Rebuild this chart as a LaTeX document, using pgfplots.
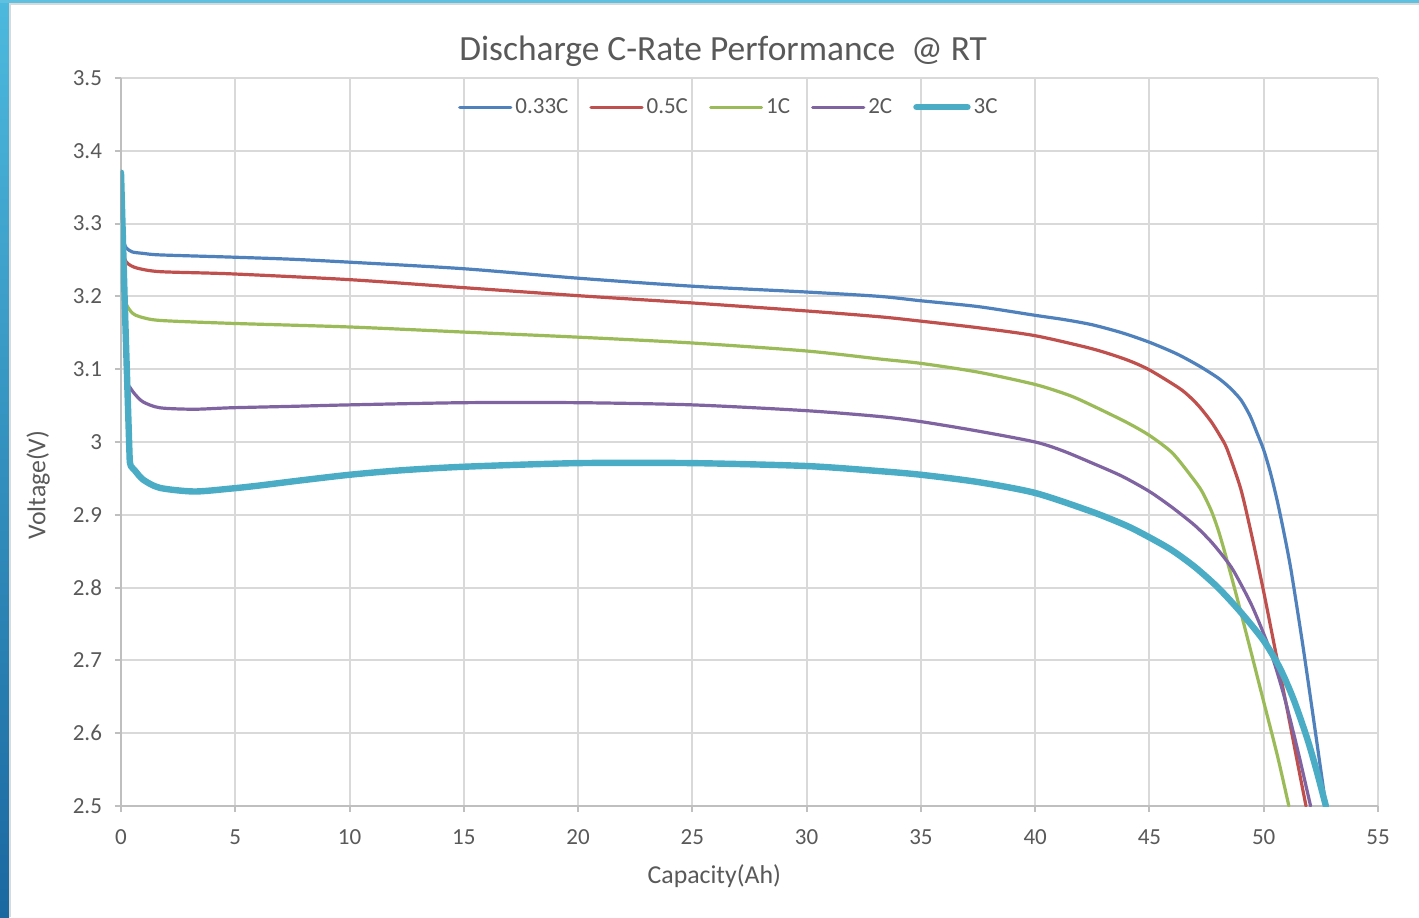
\documentclass[border=0pt]{standalone}
\usepackage{fontspec}
\setmainfont{Carlito}
\usepackage{pgfplots}
\pgfplotsset{compat=1.18}
\usepackage{pgfplotstable}

\definecolor{txt}{HTML}{595959}
\definecolor{gridc}{HTML}{D9D9D9}
\definecolor{axc}{HTML}{BFBFBF}
\definecolor{cA}{HTML}{4F81BD}
\definecolor{cB}{HTML}{C0504D}
\definecolor{cC}{HTML}{9BBB59}
\definecolor{cD}{HTML}{8064A2}
\definecolor{cE}{HTML}{4BACC6}
\definecolor{frameTop}{HTML}{4DB9DD}
\definecolor{frameBot}{HTML}{1A68A0}

% capacity (Ah) vs voltage (V)
\pgfplotstableread{
x y
0 3.370
0.09 3.290
0.15 3.272
0.25 3.266
0.5 3.261
1 3.259
1.7 3.257
4.8 3.254
7.5 3.251
10 3.247
15 3.238
20 3.225
25 3.214
30 3.206
33.2 3.200
35 3.194
37.5 3.186
40 3.174
41.3 3.168
42.5 3.161
43.8 3.150
45 3.137
46.2 3.121
47.2 3.104
48 3.088
48.5 3.075
49 3.058
49.4 3.036
49.7 3.013
50 2.989
50.3 2.957
50.6 2.918
50.9 2.873
51.2 2.823
51.7 2.723
52.2 2.615
52.72 2.500
}\rateA

\pgfplotstableread{
x y
0 3.370
0.11 3.270
0.16 3.252
0.3 3.245
0.69 3.239
1.7 3.234
4.8 3.231
10 3.223
15 3.212
20 3.201
25 3.191
30 3.180
33.2 3.172
35 3.166
37.5 3.157
40 3.146
42.5 3.128
44 3.113
45 3.099
46.3 3.074
46.8 3.061
47.2 3.048
47.7 3.028
48.1 3.008
48.4 2.990
49.0 2.935
49.5 2.868
50.0 2.794
50.5 2.715
51.0 2.637
51.5 2.556
51.85 2.500
}\rateB

\pgfplotstableread{
x y
0 3.370
0.18 3.200
0.25 3.188
0.5 3.177
0.83 3.172
1.7 3.167
4.8 3.163
10 3.158
15 3.151
20 3.144
25 3.136
30 3.125
33.2 3.114
35 3.108
37.5 3.096
40 3.079
41.5 3.064
42.5 3.050
44 3.027
45 3.009
46 2.985
46.9 2.950
47.3 2.932
47.7 2.906
48.0 2.880
48.3 2.848
48.8 2.790
49.4 2.717
50.0 2.643
50.6 2.569
51.1 2.500
}\rateC

\pgfplotstableread{
x y
0 3.370
0.30 3.080
0.37 3.076
0.6 3.066
0.97 3.055
1.7 3.047
3.2 3.045
4.8 3.047
7.5 3.049
10 3.051
15 3.054
20 3.054
25 3.051
30 3.043
33.2 3.035
35 3.028
37.5 3.015
40 3.000
41.2 2.988
42.5 2.971
43.8 2.953
45 2.932
46 2.910
47 2.885
47.7 2.863
48.3 2.840
48.7 2.822
49.5 2.774
50.3 2.712
50.9 2.650
51.5 2.575
52.05 2.500
}\rateD

\pgfplotstableread{
x y
0 3.370
0.18 3.175
0.36 2.995
0.39 2.972
0.43 2.967
0.6 2.961
0.98 2.948
1.7 2.937
3.2 2.932
4.8 2.936
6 2.940
7.8 2.947
10 2.955
12.2 2.961
15 2.966
20 2.971
25 2.971
30 2.967
33.2 2.960
35 2.955
37.5 2.945
40 2.930
42.5 2.904
44 2.885
45 2.869
46 2.851
47 2.828
48 2.800
49 2.766
50 2.727
50.7 2.690
51.3 2.647
51.9 2.593
52.3 2.550
52.72 2.500
}\rateE

\begin{document}
\begin{tikzpicture}
  \useasboundingbox (0,0) rectangle (709.5pt,458.5pt);
  \fill[white] (0,0) rectangle (709.5pt,458.5pt);
  % screenshot frame
  \fill[top color=frameTop, bottom color=frameBot] (0,0) rectangle (4.5pt,458.5pt);
  \fill[frameTop!90!white] (0,457pt) rectangle (709.5pt,458.5pt);
  \draw[gridc, line width=0.8pt] (5pt,0) -- (5pt,456.6pt) -- (709.5pt,456.6pt);

  \begin{axis}[
      at={(60.5pt,55.5pt)}, anchor=south west,
      scale only axis,
      width=628.5pt, height=364pt,
      xmin=0, xmax=55, ymin=2.5, ymax=3.5,
      xtick={0,5,...,55},
      ytick={2.5,2.6,2.7,2.8,2.9,3,3.1,3.2,3.3,3.4,3.5},
      axis x line*=bottom, axis y line*=left,
      axis line style={axc, line width=1pt},
      tick align=outside, major tick length=3pt,
      tick style={axc, line width=1pt},
      grid=major,
      major grid style={gridc, line width=1pt},
      /pgf/number format/assume math mode=true,
      ticklabel style={font=\fontsize{11.5}{13}\selectfont, text=txt},
      yticklabel style={xshift=-3pt},
      xticklabel style={yshift=-5.5pt},
      xlabel={Capacity(Ah)},
      xlabel style={at={(axis description cs:0.472,-0.097)}, anchor=center,
        font=\fontsize{12.9}{15}\selectfont, text=txt},
      ylabel={Voltage(V)},
      ylabel style={at={(axis description cs:-0.066,0.441)}, anchor=center,
        font=\fontsize{12.9}{15}\selectfont, text=txt},
      after end axis/.code={
        \node[anchor=base, inner sep=0pt, text=txt, font=\fontsize{17.7}{21}\selectfont]
          at (axis description cs:0.479,1.0247) {Discharge C-Rate Performance\ \ @ RT};
      },
      legend columns=-1,
      legend style={at={(axis description cs:0.484,0.96)}, anchor=center,
        draw=none, fill=none, font=\fontsize{11.5}{13}\selectfont, text=txt,
        nodes={inner xsep=1.5pt, inner ysep=1pt},
        /tikz/every even column/.append style={column sep=9pt}},
      legend image code/.code={\draw[#1] (0pt,0pt) -- (25.5pt,0pt);},
      every axis plot/.append style={smooth, tension=0.45, line join=round, line cap=round},
    ]
    \addplot[cA, line width=1.6pt] table {\rateA};
    \addplot[cB, line width=1.6pt] table {\rateB};
    \addplot[cC, line width=1.6pt] table {\rateC};
    \addplot[cD, line width=1.6pt] table {\rateD};
    \addplot[cE, line width=3.2pt] table {\rateE};
    \legend{0.33C, 0.5C, 1C, 2C, 3C}
  \end{axis}
\end{tikzpicture}
\end{document}
